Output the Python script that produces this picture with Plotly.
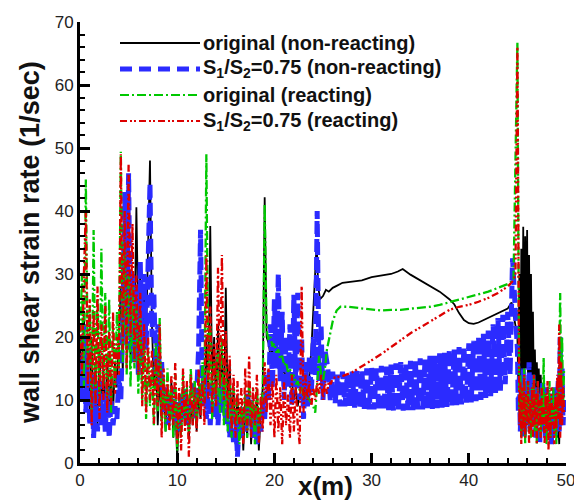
import numpy as np
import plotly.graph_objects as go

# ---------------- data ----------------
# front (noisy) segment sampled every 0.2 m from 0 to 23.2 m
FRONT_START, FRONT_STEP, FRONT_N = 0.0, 0.2, 117
# back (noisy) segment sampled every 0.1 m from 45.0 to 49.8 m
BACK_START, BACK_STEP, BACK_N = 45.0, 0.1, 49

black_front = [20, 12, 24, 10, 18, 8, 20, 7, 16, 6, 18, 8, 15, 7, 17, 9, 14, 8, 16, 12,
               20, 28, 14, 30, 18, 33, 16, 27, 20, 40.6, 22, 30, 17, 28, 20, 36, 48, 22, 12, 18,
               6, 14, 7, 12, 5, 11, 6, 13, 4, 10, 0.5, 9, 5, 11, 6, 12, 4, 10, 6, 13,
               5, 11, 7, 14, 9, 20, 11, 37.6, 12, 20, 8, 22, 10, 18, 7, 27.8, 8, 16, 5, 12,
               3, 11, 4, 9, 2, 10, 4, 12, 3, 9, 5, 11, 2, 8, 12, 42.2, 20, 19, 17, 18,
               16, 17, 15, 16, 14, 15, 13, 14, 12, 13, 10, 12, 9, 11, 10, 12, 11]
black_mid_x = [23.4, 23.6, 23.8, 24.0, 24.2, 24.35, 24.5, 24.7, 25.0, 25.3, 25.6, 26.0, 26.5, 27,
               28, 29, 30, 31, 32, 32.7, 33.2, 34, 35, 36, 37, 38, 38.5, 39, 39.5, 40, 40.5,
               41, 42, 43, 44, 44.4]
black_mid_y = [12, 14, 18, 25, 31, 35, 28, 26, 26.5, 27.5, 27.2, 27.8, 28.2, 28.6,
               28.8, 29.0, 29.5, 29.7, 30.0, 30.4, 30.8, 29.9, 29.0, 28.0, 27.2, 26.0, 25.2, 23.8, 22.7, 22.2, 22.1,
               22.3, 23.0, 23.7, 24.5, 25.5]
black_back = [20, 12, 30, 8, 34, 10, 37.5, 12, 36, 15, 37, 11, 33, 14, 30, 12, 24, 10, 18, 9,
              16, 11, 15, 8, 14, 9, 12, 7, 11, 8, 10, 6, 9, 5, 11, 6, 9, 4, 8, 5,
              10, 4, 7, 3, 9, 6, 12, 8, 10]

blue_front = [16, 10, 22, 8, 18, 6, 14, 4, 12, 5, 13, 6, 11, 5, 12, 4, 10, 6, 9, 7,
              14, 10, 22, 43, 20, 46, 18, 30, 16, 28, 14, 32, 16, 30, 18, 34, 44.4, 20, 27, 14,
              22, 12, 16, 8, 12, 6, 11, 7, 12, 6, 10, 5, 11, 7, 12, 6, 10, 8, 13, 7,
              11, 18, 37, 9, 14, 7, 12, 6, 13, 7, 11, 6, 12, 8, 13, 6, 11, 4, 9, 3,
              8, 1, 7, 4, 9, 5, 11, 6, 10, 4, 9, 3, 8, 5, 10, 7, 14, 10, 22, 12,
              26, 15, 30, 13, 24, 10, 20, 12, 22, 9, 26.7, 12, 27, 10, 20, 7, 16]
blue_mid_x = [23.4, 23.6, 23.8, 24.0, 24.2, 24.4, 24.6, 24.8, 25.0, 25.2,
              25.5, 25.75, 26, 26.25, 26.5, 26.75, 27, 27.25, 27.5, 27.75, 28, 28.25, 28.5, 28.75,
              29, 29.25, 29.5, 29.75, 30, 30.25, 30.5, 30.75, 31, 31.25, 31.5, 31.75, 32, 32.25,
              32.5, 32.75, 33, 33.25, 33.5, 33.75, 34, 34.25, 34.5, 34.75, 35, 35.25, 35.5, 35.75,
              36, 36.25, 36.5, 36.75, 37, 37.25, 37.5, 37.75, 38, 38.25, 38.5, 38.75, 39, 39.25,
              39.5, 39.75, 40, 40.25, 40.5, 40.75, 41, 41.25, 41.5, 41.75, 42, 42.25, 42.5, 42.75,
              43, 43.25, 43.5, 43.75, 44, 44.25, 44.5, 44.75]
blue_mid_y = [9, 17, 11, 20, 14, 40, 13, 22, 10, 18,
              15, 10, 14.5, 9.5, 14, 9, 14.5, 9, 14, 9, 14.5, 8.8, 14.8, 8.7,
              14.6, 8.6, 15, 8.5, 15.2, 8.5, 15, 8.4, 15.4, 8.4, 15.3, 8.4, 15.6, 8.3,
              15.8, 8.4, 16, 8.3, 15.8, 8.4, 16.2, 8.4, 16.3, 8.5, 16.6, 8.5, 16.5, 8.6,
              17, 8.6, 17, 8.7, 17.4, 8.8, 17.5, 8.9, 18, 9, 18, 9.2, 18.4, 9.3,
              18.5, 9.5, 19, 9.6, 19.4, 9.8, 20, 10, 20.5, 10.3, 21, 10.6, 22, 11,
              23, 11.5, 23.5, 12.5, 24, 14, 32.5, 25]
blue_back = [18, 8, 14, 5, 12, 7, 15, 4, 11, 6, 13, 9, 16, 5, 12, 8, 14, 6, 10, 4,
             12, 7, 9, 3, 11, 6, 13, 5, 10, 4, 12, 7, 9, 5, 11, 3, 10, 6, 12, 4,
             9, 7, 13, 5, 20, 8, 15, 6, 10]

green_front = [18, 30, 12, 45, 15, 25, 8, 37, 10, 26, 9, 34, 12, 27, 10, 26, 8, 22, 12, 24,
               15, 49.4, 16, 35, 14, 30, 12, 28, 15, 25, 11, 23, 10, 19, 7, 18, 9, 16, 6, 19,
               8, 23, 6, 14, 5, 15, 7, 12, 4, 14, 2, 11, 4, 14, 6, 12, 5, 15, 7, 13,
               6, 14, 8, 16, 10, 49, 12, 22, 7, 16, 9, 18, 8, 20, 6, 15, 5, 13, 4, 12,
               6, 10, 3, 9, 5, 11, 4, 13, 6, 10, 3, 12, 5, 9, 11, 41, 21, 19.5, 20, 18.5,
               19, 17.5, 18, 16.5, 17, 15.5, 16, 14.5, 15, 13.5, 14, 12.5, 13, 11.5, 12, 10.5, 11]
green_mid_x = [23.4, 23.6, 23.8, 24.0, 24.2, 24.4, 24.6, 24.8, 25.0, 25.2, 25.4, 25.6, 25.8,
               26.0, 26.4, 26.8, 27.5, 29, 30, 31, 32, 33, 34, 35, 36, 37, 38, 39, 40,
               41, 42, 43, 44, 44.6]
green_mid_y = [10.5, 10, 9.5, 9, 8, 12, 17, 14, 13, 15, 18, 19.5, 21,
               22.5, 24.2, 24.8, 24.8, 24.5, 24.3, 24.2, 24.3, 24.3, 24.5, 24.6, 24.8, 25.1, 25.5, 25.9, 26.3,
               26.7, 27.2, 27.8, 28.4, 29]
green_back = [66.8, 35, 8, 14, 4, 12, 6, 15, 3, 11, 7, 13, 5, 10, 4, 12, 8, 14, 5, 11,
              3, 13, 6, 10, 4, 12, 7, 16.7, 5, 11, 3, 10, 6, 13, 4, 9, 7, 12, 5, 10,
              3, 11, 8, 14, 27, 12, 20, 9, 15]

red_front = [22, 14, 30, 40, 12, 26, 6, 24, 9, 28, 7, 22, 10, 25, 8, 21, 9, 24, 11, 20,
             14, 49, 18, 40, 15, 47.5, 20, 38, 16, 30, 14, 27, 9, 22, 8, 20, 10, 18, 6, 17,
             9, 22, 4, 15, 7, 13, 5, 14, 6, 16, 3, 12, 2, 15, 5, 13, 1, 14, 6, 12,
             5, 15, 7, 13, 6, 33, 10, 25, 8, 19, 9, 31, 12, 33, 10, 21, 7, 17, 5, 14,
             4, 13, 6, 12, 3, 15, 5, 17, 4, 12, 6, 14, 3, 11, 5, 16, 8, 15, 6, 13,
             4, 14, 5, 12, 3, 13, 6, 11, 4, 14, 5, 12, 6, 3, 28, 8, 14]
red_mid_x = [23.4, 23.6, 23.8, 24.0, 24.2, 24.4, 24.6, 24.8, 25.0, 25.2, 25.4, 25.6, 25.8,
             26, 27, 28, 29, 30, 31, 32, 33, 34, 35, 36, 37, 38, 39, 40, 41, 42, 43, 44, 44.6, 44.8]
red_mid_y = [10, 13, 9, 12, 10, 13, 11, 14, 10, 13, 11, 13, 12.5,
             13.5, 13.8, 14.4, 15.3, 16.3, 17.3, 18.4, 19.5, 20.6, 21.5, 22.4, 23.4, 24.3, 24.8, 25.1, 25.6,
             26.2, 27.0, 28.0, 29, 30]
red_back = [66, 30, 6, 13, 3, 12, 5, 14, 4, 11, 6, 13, 3, 10, 5, 12, 4, 14, 6, 11,
            3, 13, 5, 10, 4, 12, 6, 9, 3, 11, 5, 13, 2, 10, 4, 12, 6, 9, 3, 11,
            5, 14, 7, 22, 4, 16, 6, 12, 8]

series_names = ["original (non-reacting)",
                "S<sub>1</sub>/S<sub>2</sub>=0.75 (non-reacting)",
                "original (reacting)",
                "S<sub>1</sub>/S<sub>2</sub>=0.75 (reacting)"]
x_ticks = [0, 10, 20, 30, 40, 50]
y_ticks = [0, 10, 20, 30, 40, 50, 60, 70]

# ---------------- build ----------------
x_front = np.round(FRONT_START + FRONT_STEP * np.arange(FRONT_N), 2)
x_back = np.round(BACK_START + BACK_STEP * np.arange(BACK_N), 2)

def full(front, mid_x, mid_y, back):
    xs = list(x_front) + list(mid_x) + list(x_back)
    ys = list(front) + list(mid_y) + list(back)
    return xs, ys

colors = ["#000000", "#2b2bff", "#00c800", "#dd0000"]
dashes = ["solid", "13px,5px", "9px,3px,2px,3px", "7px,3px,2px,2px,2px,3px"]
legend_dashes = ["solid", "12px,7px", "9px,3px,2px,3px", "7px,3px,2px,2px,2px,3px"]
trace_widths = [1.8, 5, 2.3, 2.3]
legend_widths = [1.8, 5, 1.8, 1.8]

data = [
    full(black_front, black_mid_x, black_mid_y, black_back),
    full(blue_front, blue_mid_x, blue_mid_y, blue_back),
    full(green_front, green_mid_x, green_mid_y, green_back),
    full(red_front, red_mid_x, red_mid_y, red_back),
]

fig = go.Figure()
for (xs, ys), c, d, w, nm in zip(data, colors, dashes, trace_widths, series_names):
    fig.add_trace(go.Scatter(x=xs, y=ys, mode="lines", name=nm,
                             line=dict(color=c, width=w, dash=d), showlegend=False))

# layout geometry
W, H = 574, 502
ml, mr, mt, mb = 80, 8, 22, 39
pw, ph = W - ml - mr, H - mt - mb
def px_to_paper(px, py):
    return (px - ml) / pw, 1 - (py - mt) / ph

FONT = "Arial, Liberation Sans"

# custom legend drawn in paper coordinates (long line samples like the original)
legend_rows = [43, 69, 95, 121]
for c, d, w, nm, ry in zip(colors, legend_dashes, legend_widths, series_names, legend_rows):
    x0, y0 = px_to_paper(120, ry)
    x1, _ = px_to_paper(200, ry)
    fig.add_shape(type="line", xref="paper", yref="paper", x0=x0, x1=x1, y0=y0, y1=y0,
                  line=dict(color=c, width=w, dash=d))
    tx, _ = px_to_paper(201, ry)
    fig.add_annotation(xref="paper", yref="paper", x=tx, y=y0, text="<b>" + nm + "</b>",
                       showarrow=False, xanchor="left", yanchor="middle",
                       font=dict(family=FONT, size=20, color="#111"))

# axis titles
tx, ty = px_to_paper(325, 486)
fig.add_annotation(xref="paper", yref="paper", x=tx, y=ty, text="<b>x(m)</b>",
                   showarrow=False, xanchor="center", yanchor="middle",
                   font=dict(family=FONT, size=26, color="#111"))
tx, ty = px_to_paper(30, 243)
fig.add_annotation(xref="paper", yref="paper", x=tx, y=ty,
                   text="<b>wall shear strain rate (1/sec)</b>", textangle=-90,
                   showarrow=False, xanchor="center", yanchor="middle",
                   font=dict(family=FONT, size=27, color="#111"))

axis_common = dict(showline=True, linewidth=3, linecolor="black", ticks="inside",
                   ticklen=10, tickwidth=2.5, tickcolor="black", showgrid=False,
                   zeroline=False, mirror=False, automargin=False,
                   ticklabeloverflow="allow",
                   tickfont=dict(family=FONT, size=17, color="#222"))
minor = dict(dtick=2, ticklen=5, tickwidth=1.5, ticks="inside", tickcolor="black")

fig.update_xaxes(range=[0, 50], tickvals=x_ticks, minor=minor, **axis_common)
fig.update_yaxes(range=[0, 70], tickvals=y_ticks, minor=minor, **axis_common)

fig.update_layout(width=W, height=H, margin=dict(l=ml, r=mr, t=mt, b=mb),
                  paper_bgcolor="white", plot_bgcolor="white", showlegend=False)

fig.write_html("out.html")
